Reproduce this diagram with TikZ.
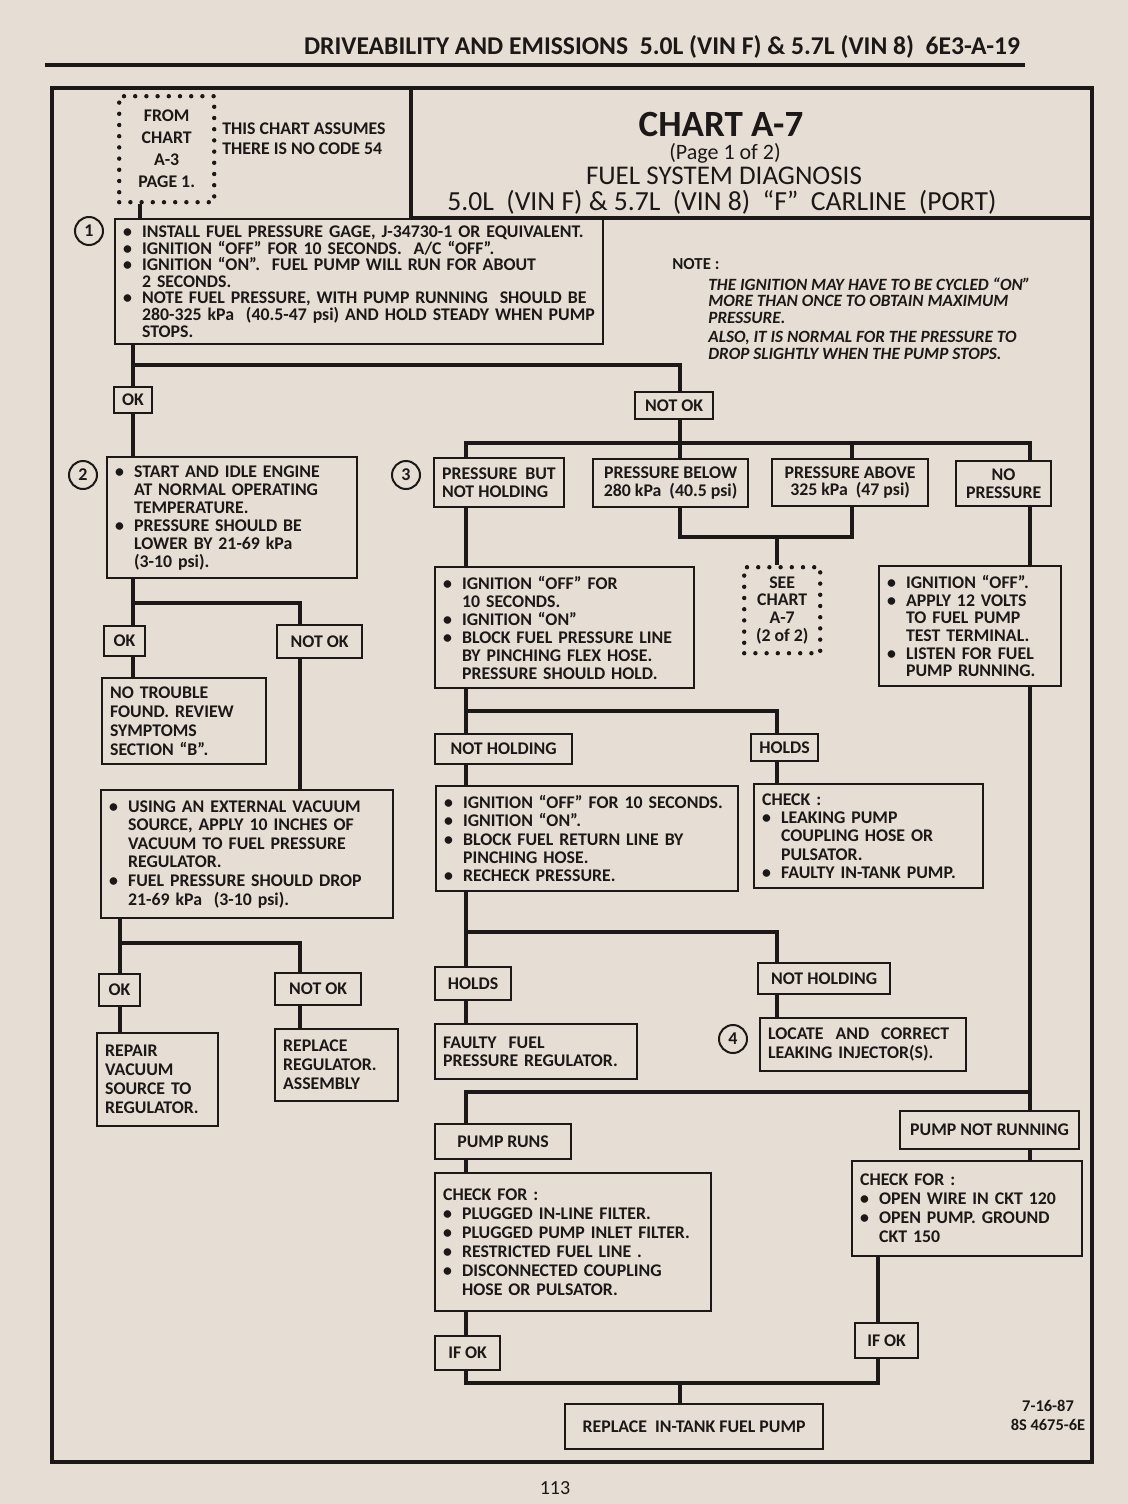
\documentclass[tikz,border=0pt]{standalone}
\usepackage{fontspec}
\setmainfont{Carlito}
\usetikzlibrary{calc}
\definecolor{paper}{RGB}{230,222,212}
\definecolor{ink}{RGB}{28,24,24}
\newcommand\bxfont{\fontsize{8.9}{8.8}\selectfont\bfseries}
\newcommand\bl{\makebox[9.5pt][l]{\textbullet}}
\newcommand\ind{\hspace*{9.5pt}}
\tikzset{
 wh/.code 2 args={\pgfmathsetmacro\bxw{#1*0.5}\pgfmathsetmacro\bxh{#2*0.5}\pgfmathsetmacro\bxt{#1*0.5-8}\edef\bxtmp{\noexpand\pgfkeysalso{/tikz/minimum width=\bxw pt,/tikz/minimum height=\bxh pt,/tikz/text width=\bxt pt}}\bxtmp},
 lwh/.code 2 args={\pgfmathsetmacro\bxw{#1*0.5}\pgfmathsetmacro\bxh{#2*0.5}\edef\bxtmp{\noexpand\pgfkeysalso{/tikz/minimum width=\bxw pt,/tikz/minimum height=\bxh pt}}\bxtmp},
 box/.style={draw=ink, line width=1.1pt, inner xsep=4pt, inner ysep=1pt, anchor=north west, align=left, font=\bxfont, text=ink},
 lab/.style={box, align=center},
 dotbox/.style={draw=ink, line width=2.2pt, dash pattern=on 0pt off 5.6pt, line cap=round, inner xsep=4pt, inner ysep=1pt, anchor=north west, align=center, font=\bxfont, text=ink},
 conn/.style={draw=ink, line width=2.4pt},
 frame/.style={draw=ink, line width=1.6pt},
 num/.style={draw=ink, circle, line width=1pt, minimum size=14pt, inner sep=0pt, font=\fontsize{9}{9}\selectfont\bfseries, text=ink},
 txt/.style={text=ink, inner sep=0pt},
}
\begin{document}
\begin{tikzpicture}[x=0.5pt,y=-0.5pt]
\fill[paper] (0,0) rectangle (1128,1504);
\useasboundingbox (0,0) rectangle (1128,1504);

% header
\node[txt, font=\fontsize{12.8}{13}\selectfont\bfseries] (hdr) at (662,47) {DRIVEABILITY AND EMISSIONS\ \ 5.0L (VIN F)\ \&\ 5.7L (VIN 8)\ \ 6E3-A-19};
\draw[frame, line width=1.8pt] (45,65) -- (1025,65);

% frame and title box
\draw[frame] (52,88) rectangle (1092,1462);
\draw[frame] (411,88) -- (411,218) -- (1092,218);
\node[txt, font=\fontsize{18.5}{19}\selectfont\bfseries] (t1) at (721,124) {CHART A-7};
\node[txt, font=\fontsize{11}{12}\selectfont] (t2) at (725,153) {(Page 1 of 2)};
\node[txt, font=\fontsize{13.5}{14}\selectfont] (t3) at (724,176) {FUEL SYSTEM DIAGNOSIS};
\node[txt, font=\fontsize{13.8}{15}\selectfont] (t4) at (722,202) {5.0L\ \ (VIN F)\ \&\ 5.7L\ \ (VIN 8)\ \ ``F''\ \ CARLINE\ \ (PORT)};

% top-left
\node[dotbox, lwh={95}{106}, font=\fontsize{8.9}{11}\selectfont\bfseries] (fromb) at (117,94) {FROM\\CHART\\A-3\\PAGE 1.};
\node[txt, anchor=north west, align=left, font=\fontsize{8.9}{10}\selectfont\bfseries] (assume) at (222,122) {THIS CHART ASSUMES\\THERE IS NO CODE 54};

% step 1
\node[box, wh={488}{125}, font=\fontsize{8.9}{8.3}\selectfont\bfseries] (b1) at (114,218) {\bl INSTALL FUEL PRESSURE GAGE,\ J-34730-1 OR\ EQUIVALENT.\\\bl IGNITION ``OFF'' FOR 10 SECONDS.\ \ A/C ``OFF''.\\\bl IGNITION ``ON''.\ \ FUEL PUMP WILL RUN FOR ABOUT\\\ind 2 SECONDS.\\\bl NOTE FUEL PRESSURE, WITH PUMP RUNNING\ \ SHOULD BE\\\ind 280-325 kPa\ \ (40.5-47 psi) AND HOLD STEADY WHEN PUMP\\\ind STOPS.};
\node[num] (n1) at (89,231) {1};

\node[txt, anchor=west, font=\fontsize{8.4}{8.4}\selectfont\bfseries] (notehd) at (672,264) {NOTE :};
\node[txt, anchor=north west, align=left, font=\fontsize{8.6}{8.3}\selectfont\bfseries\itshape] (notetx) at (708,277) {THE IGNITION MAY HAVE TO BE CYCLED ``ON''\\MORE THAN ONCE TO OBTAIN MAXIMUM\\PRESSURE.\\[1.5pt]ALSO, IT IS NORMAL FOR THE PRESSURE TO\\DROP SLIGHTLY WHEN THE PUMP STOPS.};

\node[lab, lwh={37}{26}] (ok1) at (113,386) {OK};
\node[lab, lwh={78}{27}] (nok1) at (634,391) {NOT OK};

% step 2 (left)
\node[box, wh={250}{121}, font=\fontsize{8.9}{9}\selectfont\bfseries] (b2) at (106,456) {\bl START AND IDLE ENGINE\\\ind AT NORMAL OPERATING\\\ind TEMPERATURE.\\\bl PRESSURE SHOULD BE\\\ind LOWER BY 21-69 kPa\\\ind (3-10 psi).};
\node[num] (n2) at (83,475) {2};
\node[lab, lwh={41}{30}] (ok2) at (103,625) {OK};
\node[lab, lwh={85}{33}] (nok2) at (276,624) {NOT OK};
\node[box, wh={164}{86}, font=\fontsize{8.9}{9.5}\selectfont\bfseries] (ntf) at (101,677) {NO TROUBLE\\FOUND. REVIEW\\SYMPTOMS\\SECTION ``B''.};
\node[box, wh={292}{128}, font=\fontsize{8.9}{9.3}\selectfont\bfseries] (vac) at (100,789) {\bl USING AN EXTERNAL VACUUM\\\ind SOURCE, APPLY 10 INCHES OF\\\ind VACUUM TO FUEL PRESSURE\\\ind REGULATOR.\\\bl FUEL PRESSURE SHOULD DROP\\\ind 21-69 kPa\ \ (3-10 psi).};
\node[lab, lwh={41}{32}] (ok3) at (98,973) {OK};
\node[lab, lwh={86}{32}] (nok3) at (274,972) {NOT OK};
\node[box, wh={121}{93}, font=\fontsize{8.9}{9.5}\selectfont\bfseries] (repair) at (96,1032) {REPAIR\\VACUUM\\SOURCE TO\\REGULATOR.};
\node[box, wh={123}{72}, font=\fontsize{8.9}{9.5}\selectfont\bfseries] (replreg) at (274,1028) {REPLACE\\REGULATOR.\\ASSEMBLY};

% step 3
\node[num] (n3) at (406,475) {3};
\node[lab, lwh={129}{49}, align=left] (pbnh) at (433,457) {PRESSURE\ \ BUT\\NOT HOLDING};
\node[lab, lwh={155}{48}] (pbel) at (592,458) {PRESSURE BELOW\\280 kPa\ \ (40.5 psi)};
\node[lab, lwh={156}{47}] (pabv) at (771,458) {PRESSURE ABOVE\\325 kPa\ \ (47 psi)};
\node[lab, lwh={95}{45}] (nopr) at (955,460) {NO\\PRESSURE};
\node[dotbox, lwh={76}{86}] (see) at (742,565) {SEE\\CHART\\A-7\\(2 of 2)};
\node[box, wh={182}{120}] (bnp) at (878,565) {\bl IGNITION ``OFF''.\\\bl APPLY 12 VOLTS\\\ind TO FUEL PUMP\\\ind TEST TERMINAL.\\\bl LISTEN FOR FUEL\\\ind PUMP RUNNING.};
\node[box, wh={259}{121}, font=\fontsize{8.9}{9}\selectfont\bfseries] (b3) at (434,566) {\bl IGNITION ``OFF'' FOR\\\ind 10 SECONDS.\\\bl IGNITION ``ON''\\\bl BLOCK FUEL PRESSURE LINE\\\ind BY PINCHING FLEX HOSE.\\\ind PRESSURE SHOULD HOLD.};
\node[lab, lwh={137}{30}] (nh1) at (434,733) {NOT HOLDING};
\node[lab, lwh={67}{27}] (hold1) at (750,733) {HOLDS};
\node[box, wh={302}{105}, font=\fontsize{8.9}{9.2}\selectfont\bfseries] (b4) at (435,785) {\bl IGNITION ``OFF'' FOR 10 SECONDS.\\\bl IGNITION ``ON''.\\\bl BLOCK\ FUEL RETURN LINE BY\\\ind PINCHING HOSE.\\\bl RECHECK PRESSURE.};
\node[box, wh={229}{104}, font=\fontsize{8.9}{9.2}\selectfont\bfseries] (chk) at (753,783) {CHECK :\\\bl LEAKING PUMP\\\ind COUPLING HOSE OR\\\ind PULSATOR.\\\bl FAULTY IN-TANK PUMP.};
\node[lab, lwh={76}{33}] (hold2) at (434,966) {HOLDS};
\node[lab, lwh={132}{31}] (nh2) at (757,962) {NOT HOLDING};
\node[box, wh={202}{55}, font=\fontsize{8.9}{9.2}\selectfont\bfseries] (faulty) at (434,1023) {FAULTY\ \ FUEL\\PRESSURE REGULATOR.};
\node[box, wh={206}{53}, font=\fontsize{8.9}{9.2}\selectfont\bfseries] (locate) at (759,1017) {LOCATE\ \ AND\ \ CORRECT\\LEAKING INJECTOR(S).};
\node[num] (n4) at (733,1039) {4};

% pump section
\node[lab, lwh={136}{35}] (prun) at (434,1123) {PUMP RUNS};
\node[lab, lwh={179}{38}] (pnr) at (899,1110) {PUMP NOT RUNNING};
\node[box, wh={276}{138}, font=\fontsize{8.9}{9.5}\selectfont\bfseries] (chkf) at (434,1172) {CHECK FOR :\\\bl PLUGGED IN-LINE FILTER.\\\bl PLUGGED PUMP INLET FILTER.\\\bl RESTRICTED FUEL LINE .\\\bl DISCONNECTED COUPLING\\\ind HOSE OR PULSATOR.};
\node[box, wh={230}{95}, font=\fontsize{8.9}{9.5}\selectfont\bfseries] (chk2) at (851,1160) {CHECK FOR :\\\bl OPEN WIRE IN CKT 120\\\bl OPEN PUMP. GROUND\\\ind CKT 150};
\node[lab, lwh={65}{34}] (ifok1) at (434,1335) {IF OK};
\node[lab, lwh={63}{35}] (ifok2) at (854,1322) {IF OK};
\node[lab, lwh={258}{45}] (rep) at (564,1403) {REPLACE\ \ IN-TANK FUEL PUMP};
\node[txt, align=center, font=\fontsize{8.2}{9.5}\selectfont\bfseries] (foot) at (1048,1415) {7-16-87\\8S 4675-6E};
\node[txt, font=\fontsize{10}{10}\selectfont] (pg) at (555,1488) {113};

% columns and rows
\coordinate (xA) at (133,0); \coordinate (xB) at (300,0); \coordinate (xC) at (466,0);
\coordinate (xD) at (680,0); \coordinate (xE) at (852,0); \coordinate (xF) at (1030,0);
\coordinate (xG) at (777,0); \coordinate (xH) at (120,0); \coordinate (xK) at (878,0);
\coordinate (xP) at (140,0);
\coordinate (y1) at (0,365); \coordinate (y2) at (0,443); \coordinate (y3) at (0,537);
\coordinate (y4) at (0,603); \coordinate (y5) at (0,711); \coordinate (y6) at (0,943);
\coordinate (y7) at (0,932); \coordinate (y8) at (0,1092); \coordinate (y9) at (0,1383);

% connectors
\draw[conn] (fromb.south -| xP) -- (b1.north -| xP);
\draw[conn] (b1.south -| xA) -- (ok1.north -| xA);
\draw[conn] (xA |- y1) -- (xD |- y1) -- (nok1.north -| xD);
\draw[conn] (ok1.south -| xA) -- (b2.north -| xA);
\draw[conn] (nok1.south -| xD) -- (pbel.north -| xD);
\draw[conn] (pbnh.north -| xC) |- (xF |- y2) -- (nopr.north -| xF);
\draw[conn] (pabv.north -| xE) -- (xE |- y2);
\draw[conn] (pbel.south -| xD) |- (xE |- y3) -- (pabv.south -| xE);
\draw[conn] (xG |- y3) -- (see.north -| xG);
\draw[conn] (nopr.south -| xF) -- (bnp.north -| xF);
\draw[conn] (bnp.south -| xF) |- (xC |- y8) -- (prun.north -| xC);
\draw[conn] (xF |- y8) -- (pnr.north -| xF);
\draw[conn] (pbnh.south -| xC) -- (b3.north -| xC);
\draw[conn] (b3.south -| xC) |- (xG |- y5) -- (hold1.north -| xG);
\draw[conn] (xC |- y5) -- (nh1.north -| xC);
\draw[conn] (nh1.south -| xC) -- (b4.north -| xC);
\draw[conn] (hold1.south -| xG) -- (chk.north -| xG);
\draw[conn] (b4.south -| xC) |- (xG |- y7) -- (nh2.north -| xG);
\draw[conn] (xC |- y7) -- (hold2.north -| xC);
\draw[conn] (hold2.south -| xC) -- (faulty.north -| xC);
\draw[conn] (nh2.south -| xG) -- (locate.north -| xG);
\draw[conn] (b2.south -| xA) |- (xB |- y4) -- (nok2.north -| xB);
\draw[conn] (xA |- y4) -- (ok2.north -| xA);
\draw[conn] (ok2.south -| xA) -- (ntf.north -| xA);
\draw[conn] (nok2.south -| xB) -- (vac.north -| xB);
\draw[conn] (vac.south -| xH) |- (xB |- y6) -- (nok3.north -| xB);
\draw[conn] (xH |- y6) -- (ok3.north -| xH);
\draw[conn] (ok3.south -| xH) -- (repair.north -| xH);
\draw[conn] (nok3.south -| xB) -- (replreg.north -| xB);
\draw[conn] (prun.south -| xC) -- (chkf.north -| xC);
\draw[conn] (chkf.south -| xC) -- (ifok1.north -| xC);
\draw[conn] (ifok1.south -| xC) |- (xK |- y9) -- (ifok2.south -| xK);
\draw[conn] (xD |- y9) -- (rep.north -| xD);
\draw[conn] (pnr.south -| xF) -- (chk2.north -| xF);
\draw[conn] (chk2.south -| xK) -- (ifok2.north -| xK);
\end{tikzpicture}
\end{document}
